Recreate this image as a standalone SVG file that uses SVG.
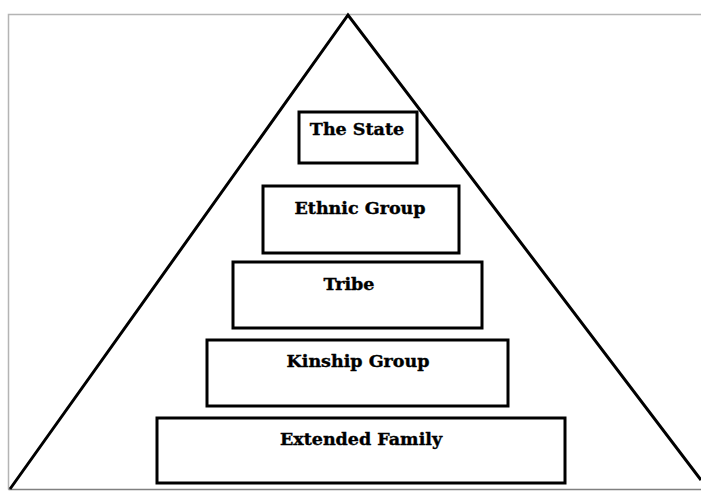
<svg xmlns="http://www.w3.org/2000/svg" width="701" height="491" viewBox="0 0 701 491">
<style>
.frame{fill:none;stroke:#b4b4b4;stroke-width:1.5}
.tri{fill:none;stroke:#000;stroke-width:3;stroke-linejoin:miter}
.box{fill:#fff;stroke:#000;stroke-width:3}
.lbl{font-family:"DejaVu Serif","Liberation Serif",serif;font-weight:bold;font-size:17.5px;fill:#000;stroke:#000;stroke-width:0.4;text-anchor:middle}
</style>
<rect width="701" height="491" fill="#fff"/>
<g id="frame">
<polyline class="frame" points="701,14.5 8.5,14.5 8.5,489.5"/>
<line x1="8.5" y1="489.5" x2="701" y2="489.5" stroke="#808080" stroke-width="1.5"/>
</g>
<g id="connectors">
<polyline class="tri" points="10,489 348,15 701,480"/>
</g>
<g id="state"><rect class="box" x="299" y="112" width="118" height="51"/><text class="lbl" x="357" y="135">The State</text></g>
<g id="ethnic"><rect class="box" x="263" y="186" width="196" height="67"/><text class="lbl" x="360" y="214">Ethnic Group</text></g>
<g id="tribe"><rect class="box" x="233" y="262" width="249" height="66"/><text class="lbl" x="349" y="290">Tribe</text></g>
<g id="kinship"><rect class="box" x="207" y="340" width="301" height="66"/><text class="lbl" x="358" y="367">Kinship Group</text></g>
<g id="extended"><rect class="box" x="157" y="418" width="408" height="65"/><text class="lbl" x="361" y="445">Extended Family</text></g>
</svg>
